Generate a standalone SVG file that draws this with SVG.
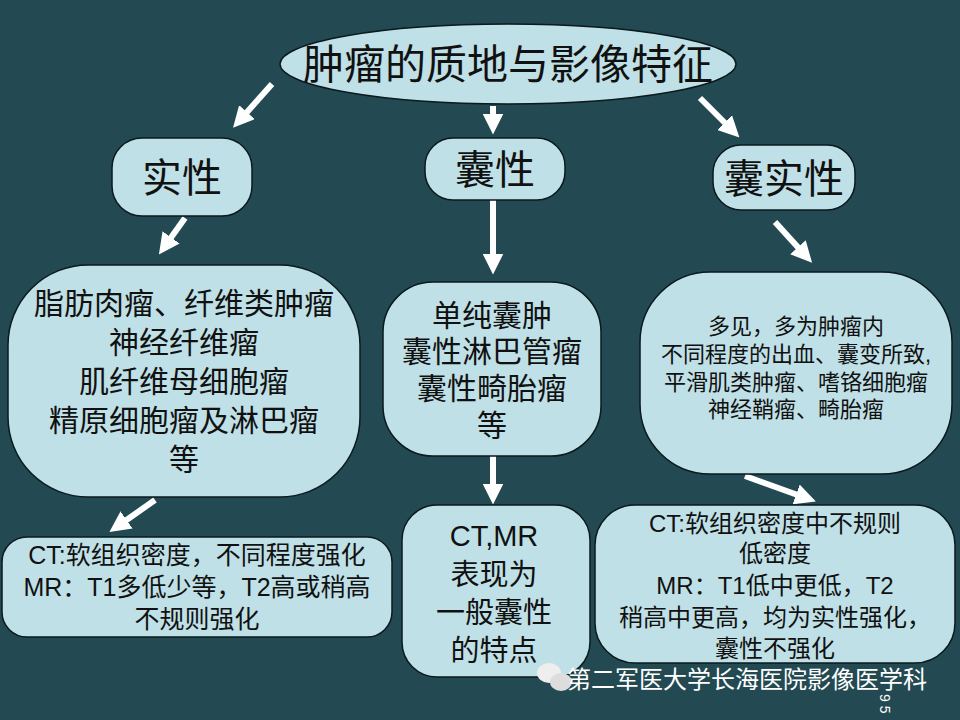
<svg xmlns="http://www.w3.org/2000/svg" width="960" height="720" viewBox="0 0 960 720">
<defs>
<style>
.n{fill:#bfe0e6;stroke:#0b1a1e;stroke-width:1.5}
text{font-family:"Liberation Sans","Noto Sans CJK SC",sans-serif;fill:#111;text-anchor:middle}
.c line{stroke:#fff;stroke-width:6}
</style>
<marker id="a" viewBox="0 0 10 10" refX="5" refY="5" markerWidth="3.5" markerHeight="3.5" orient="auto"><path d="M0,0L10,5L0,10z" fill="#fff"/></marker>
</defs>
<rect width="960" height="720" fill="#234a52"/>
<g class="c">
<line x1="272" y1="84" x2="240" y2="120" marker-end="url(#a)"/>
<line x1="493" y1="106" x2="493" y2="124" marker-end="url(#a)"/>
<line x1="700" y1="98" x2="732" y2="130" marker-end="url(#a)"/>
<line x1="185" y1="218" x2="165" y2="246" marker-end="url(#a)"/>
<line x1="493" y1="200" x2="493" y2="264" marker-end="url(#a)"/>
<line x1="775" y1="222" x2="805" y2="255" marker-end="url(#a)"/>
<line x1="155" y1="500" x2="118" y2="526" marker-end="url(#a)"/>
<line x1="493" y1="456" x2="493" y2="494" marker-end="url(#a)"/>
<line x1="745" y1="476" x2="806" y2="498" marker-end="url(#a)"/>
</g>
<g id="root"><ellipse class="n" cx="508" cy="64" rx="228" ry="40"/><text x="508" y="79" font-size="41">肿瘤的质地与影像特征</text></g>
<g id="solid"><rect class="n" x="112" y="138" width="140" height="78" rx="30"/><text x="182" y="192" font-size="40">实性</text></g>
<g id="cyst"><rect class="n" x="425" y="138" width="140" height="62" rx="28"/><text x="495" y="184" font-size="40">囊性</text></g>
<g id="mixed"><rect class="n" x="713" y="145" width="142" height="65" rx="28"/><text x="784" y="193" font-size="40">囊实性</text></g>
<g id="solidEx"><rect class="n" x="8" y="265" width="352" height="232" rx="80"/>
<text font-size="30"><tspan x="184" y="314">脂肪肉瘤、纤维类肿瘤</tspan><tspan x="184" y="353">神经纤维瘤</tspan><tspan x="184" y="392">肌纤维母细胞瘤</tspan><tspan x="184" y="431">精原细胞瘤及淋巴瘤</tspan><tspan x="184" y="470">等</tspan></text></g>
<g id="cystEx"><rect class="n" x="383" y="282" width="218" height="174" rx="50"/>
<text font-size="30"><tspan x="492" y="326">单纯囊肿</tspan><tspan x="492" y="362">囊性淋巴管瘤</tspan><tspan x="492" y="399">囊性畸胎瘤</tspan><tspan x="492" y="436">等</tspan></text></g>
<g id="mixedEx"><rect class="n" x="640" y="272" width="312" height="202" rx="70"/>
<text font-size="22"><tspan x="796" y="334">多见，多为肿瘤内</tspan><tspan x="796" y="362">不同程度的出血、囊变所致,</tspan><tspan x="796" y="390">平滑肌类肿瘤、嗜铬细胞瘤</tspan><tspan x="796" y="417">神经鞘瘤、畸胎瘤</tspan></text></g>
<g id="solidImg"><rect class="n" x="2" y="537" width="390" height="100" rx="25"/>
<text font-size="25"><tspan x="197" y="564">CT:软组织密度，不同程度强化</tspan><tspan x="197" y="596">MR：T1多低少等，T2高或稍高</tspan><tspan x="197" y="628">不规则强化</tspan></text></g>
<g id="cystImg"><rect class="n" x="402" y="505" width="188" height="172" rx="35"/>
<text font-size="29"><tspan x="494" y="546">CT,MR</tspan><tspan x="494" y="585">表现为</tspan><tspan x="494" y="623">一般囊性</tspan><tspan x="494" y="661">的特点</tspan></text></g>
<g id="mixedImg"><rect class="n" x="595" y="505" width="360" height="158" rx="40"/>
<text font-size="24"><tspan x="775" y="532">CT:软组织密度中不规则</tspan><tspan x="775" y="562">低密度</tspan><tspan x="775" y="594">MR：T1低中更低，T2</tspan><tspan x="775" y="626">稍高中更高，均为实性强化，</tspan><tspan x="775" y="657">囊性不强化</tspan></text></g>
<g id="watermark">
<ellipse cx="549" cy="673" rx="12" ry="10" fill="#eee"/><ellipse cx="561" cy="682" rx="11" ry="9" fill="#ddd"/>
<text x="747" y="688" font-size="24" style="fill:#fff">第二军医大学长海医院影像医学科</text>
<text x="880" y="694" font-size="14" transform="rotate(90 880 694)" style="fill:#fff;text-anchor:start">9 5</text>
</g>
</svg>
